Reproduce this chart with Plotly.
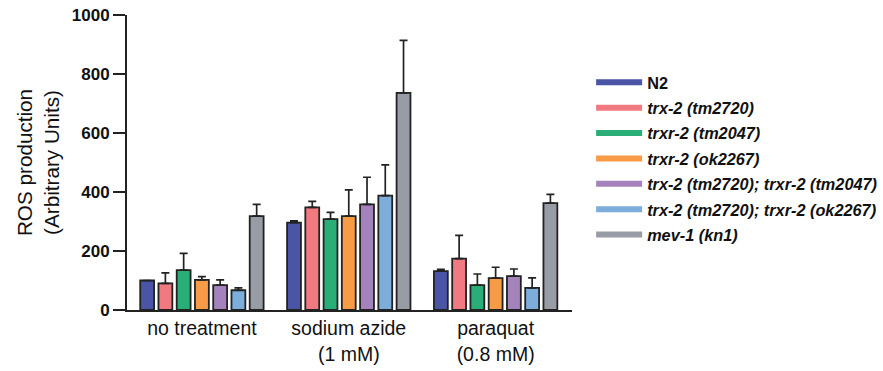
import plotly.graph_objects as go

categories = ["no treatment", "sodium azide<br>(1 mM)", "paraquat<br>(0.8 mM)"]
strains = ["N2", "trx-2 (tm2720)", "trxr-2 (tm2047)", "trxr-2 (ok2267)",
           "trx-2 (tm2720); trxr-2 (tm2047)", "trx-2 (tm2720); trxr-2 (ok2267)", "mev-1 (kn1)"]
italic = [False, True, True, True, True, True, True]
colors = ["#4a55a6", "#f07a80", "#2aae78", "#f89b47", "#a483bd", "#7dadda", "#989ca4"]

n2 = [100, 296, 132]
trx2 = [90, 348, 174]
trxr2_tm = [135, 308, 84]
trxr2_ok = [102, 318, 108]
dbl_tm = [84, 358, 115]
dbl_ok = [67, 388, 75]
mev1 = [318, 736, 362]
values = [n2, trx2, trxr2_tm, trxr2_ok, dbl_tm, dbl_ok, mev1]

n2_err = [0, 6, 6]
trx2_err = [36, 20, 79]
trxr2_tm_err = [57, 23, 38]
trxr2_ok_err = [11, 89, 37]
dbl_tm_err = [18, 92, 24]
dbl_ok_err = [8, 104, 34]
mev1_err = [40, 178, 30]
errors = [n2_err, trx2_err, trxr2_tm_err, trxr2_ok_err, dbl_tm_err, dbl_ok_err, mev1_err]

yticks = [0, 200, 400, 600, 800, 1000]

fig = go.Figure()
for name, vals, errs, col in zip(strains, values, errors, colors):
    fig.add_trace(go.Bar(
        x=categories, y=vals, name=name, showlegend=False,
        marker=dict(color=col, line=dict(color="#222222", width=1.8)),
        error_y=dict(type="data", array=errs, arrayminus=[0] * len(errs), symmetric=False,
                     color="#222222", thickness=1.7, width=4),
    ))
for name, col, it in zip(strains, colors, italic):
    label = f"<b><i>{name}</i></b>" if it else f"<b>{name}</b>"
    fig.add_trace(go.Scatter(
        x=[None], y=[None], mode="lines", name=label, legendgroup=name,
        line=dict(color=col, width=6), showlegend=True,
    ))

fig.update_layout(
    width=883, height=371,
    margin=dict(l=127, r=311, t=15, b=61, autoexpand=False),
    paper_bgcolor="white", plot_bgcolor="white",
    barmode="group", bargap=0.13, bargroupgap=0.24,
    font=dict(family="Liberation Sans, Arial, sans-serif", color="#111111"),
    showlegend=True,
    legend=dict(x=1.043, y=0.83, xanchor="left", yanchor="top",
                font=dict(size=16.3, color="#111111"), itemwidth=46,
                traceorder="grouped", tracegroupgap=1.2,
                bgcolor="rgba(0,0,0,0)"),
)
fig.update_xaxes(
    range=[-0.51, 2.52], showline=True, linecolor="#222222", linewidth=2,
    ticks="", tickfont=dict(size=19.5), showgrid=False, zeroline=False, automargin=False,
)
fig.update_yaxes(
    range=[0, 1000.01], tickvals=yticks, ticktext=[f"<b>{t}</b>" for t in yticks],
    showline=True, linecolor="#222222", linewidth=2,
    ticks="outside", ticklen=12, tickwidth=2, tickcolor="#222222",
    tickfont=dict(size=17), showgrid=False, zeroline=False, automargin=False,
    ticklabeloverflow="allow",
    title=dict(text="ROS production<br>(Arbitrary Units)", font=dict(size=20.7), standoff=7),
)

# remove the browser's default 8px body margin so the figure fills the window
fig.write_html("out.html", config={"displayModeBar": False},
               post_script="document.body.style.margin='0';")
